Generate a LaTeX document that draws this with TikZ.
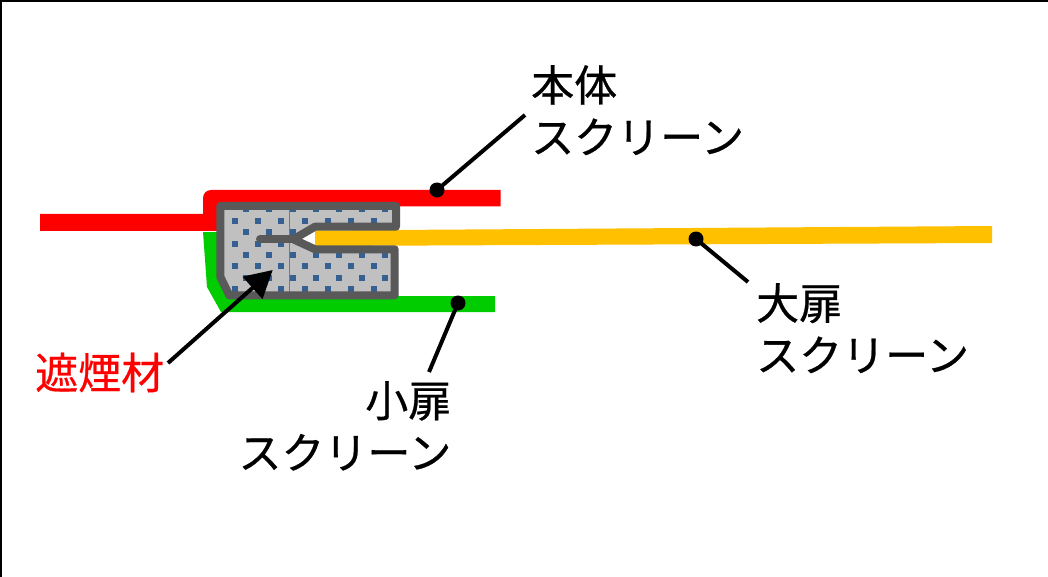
\documentclass[tikz,border=0pt]{standalone}
\usepackage{fontspec}
\usetikzlibrary{arrows.meta}
\newfontfamily\cjkfont[FakeBold=0.6]{Noto Sans CJK JP}
\definecolor{redband}{HTML}{FF0000}
\definecolor{greenband}{HTML}{00CC00}
\definecolor{yellowband}{HTML}{FFC000}
\definecolor{sealgray}{HTML}{C0C0C0}
\definecolor{sealedge}{HTML}{595959}
\definecolor{speck}{HTML}{376092}
\tikzset{
  x=1pt,y=-1pt,
  band/.style={draw=none},
  lab/.style={inner sep=0pt,font=\cjkfont\fontsize{43}{52}\selectfont},
  pin/.style={circle,fill=black,draw=none,minimum size=15pt,inner sep=0pt},
  leader/.style={draw=black,line width=4pt},
  speckbox/.style={fill=speck,draw=none},
  edge/.style={draw=sealedge,line width=8pt,line join=round,line cap=round},
}
\begin{document}
\begin{tikzpicture}
\useasboundingbox (0,0) rectangle (1048,577);
\fill[white] (0,0) rectangle (1048,577);
\draw[black,line width=2pt] (1,577) -- (1,1) -- (1048,1);
% bands
\fill[yellowband,band] (315,230.5) -- (992,226) -- (992,243) -- (315,246) -- cycle;
\fill[greenband,band] (203,232) -- (207,287) -- (221,312) -- (495,312) -- (495,296) -- (240,296) -- (225,232) -- cycle;
\fill[redband,band] (40,214) -- (203,214) -- (203,198) arc[start angle=180,end angle=270,radius=8] -- (500.5,190) -- (500.5,206.5) -- (220,206.5) -- (220,231) -- (40,231) -- cycle;
% seal body
\def\sealpath{(220.3,206) -- (396,206) -- (396,226.7) -- (315,226.7) -- (293.3,239.3) -- (315,249.3) -- (394.7,249.3) -- (394.7,295.3) -- (229.3,295.3) -- (220.3,276.7) -- cycle}
\fill[sealgray] \sealpath;
\begin{scope}
\clip \sealpath;
\foreach \y in {209.3,232.2,255,277.9}{
  \foreach \x in {246,269,293,316,339,362,385}
    \fill[speckbox] (\x-3,\y-3) rectangle (\x+3,\y+3);
}
\foreach \y in {220.7,243.6,266.3,289}{
  \foreach \x in {234.7,257.7,280.7,304.7,327.7,350.7,373.7}
    \fill[speckbox] (\x-3,\y-3) rectangle (\x+3,\y+3);
}
\draw[speck!70!sealgray,line width=1pt] (289.3,206) -- (289.3,296);
\end{scope}
\draw[edge] (260,239.3) -- (293.3,239.3);
\draw[edge] \sealpath;
% labels
\node[lab,anchor=north west,align=left] (body) at (531,65) {本体\\スクリーン};
\node[lab,anchor=north west,align=left] (large) at (756,283) {大扉\\スクリーン};
\node[lab,anchor=north east,align=right] (small) at (451.5,381) {小扉\\スクリーン};
\node[lab,anchor=west,text=red] (seal) at (35,372.5) {遮煙材};
% pins
\node[pin] (p1) at (437,190) {};
\node[pin] (p2) at (696,239) {};
\node[pin] (p3) at (458,303) {};
\coordinate (e1) at (525,115);
\coordinate (e2) at (748,282);
\coordinate (e3) at (429,372);
\coordinate (a0) at (168,363);
\coordinate (a1) at (272.7,270);
\draw[leader] (p1.center) -- (e1);
\draw[leader] (p2.center) -- (e2);
\draw[leader] (p3.center) -- (e3);
\draw[leader,-{Triangle[length=27pt,width=29pt]}] (a0) -- (a1);
\end{tikzpicture}
\end{document}
